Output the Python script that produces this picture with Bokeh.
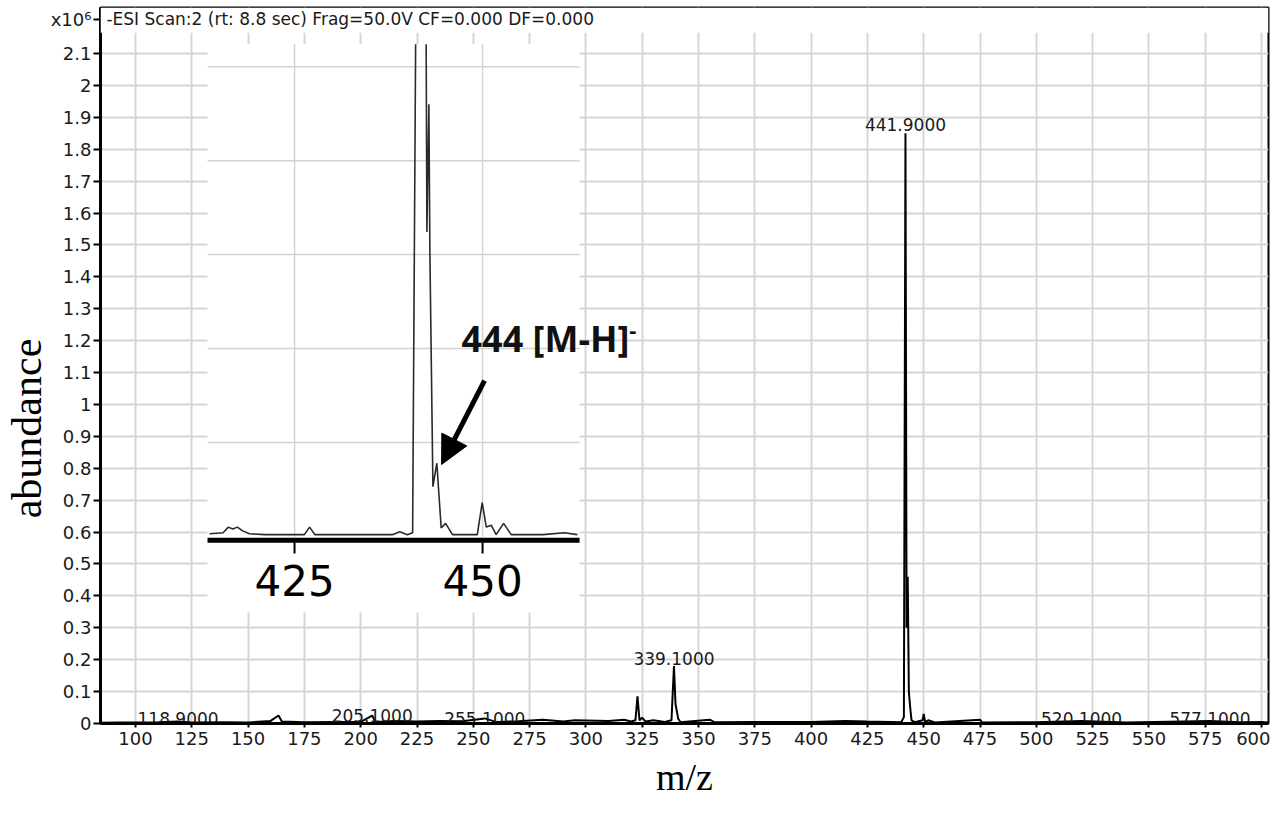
from bokeh.plotting import figure
from bokeh.models import Range1d, FixedTicker, Label, Arrow, NormalHead, BoxAnnotation
from bokeh.core.properties import value
from bokeh.embed import file_html
from bokeh.resources import INLINE

nan = float("nan")

# ---------------- data ----------------
main_mz = [84.5, 92, 100, 110, 118.9, 125, 140, 150, 160, 163.5, 165, 175, 190, 200, 205.1, 206.5,
           215, 225, 235, 245, 255.1, 260, 270, 281, 290, 295, 310, 317, 320, 322, 322.9, 323.8,
           325, 326.5, 330, 335, 338, 339.1, 339.8, 341, 342, 355, 357, 375, 400, 415, 425, 440,
           441.2, 441.9, 442.4, 442.9, 443.4, 444, 444.6, 446, 449.5, 450, 450.6, 452, 455, 475,
           476, 500, 520.1, 540, 577.1, 590, 600, 603]
main_ab = [0.002, 0.003, 0.003, 0.004, 0.006, 0.003, 0.004, 0.003, 0.008, 0.025, 0.006, 0.004, 0.005,
           0.005, 0.025, 0.005, 0.008, 0.006, 0.008, 0.007, 0.016, 0.005, 0.007, 0.012, 0.006, 0.010,
           0.008, 0.012, 0.006, 0.010, 0.085, 0.010, 0.018, 0.006, 0.010, 0.005, 0.010, 0.180, 0.060,
           0.015, 0.004, 0.012, 0.004, 0.005, 0.005, 0.008, 0.006, 0.004, 0.020, 1.850, 0.300, 0.460,
           0.100, 0.050, 0.010, 0.004, 0.010, 0.030, 0.005, 0.010, 0.003, 0.012, 0.003, 0.004, 0.008,
           0.003, 0.008, 0.004, 0.005, 0.003]

peak_labels = ["118.9000", "205.1000", "255.1000", "339.1000", "441.9000", "520.1000", "577.1000"]
peak_label_mz = [118.9, 205.1, 255.1, 339.1, 441.9, 520.1, 577.1]
peak_label_ab = [0.016, 0.025, 0.016, 0.204, 1.878, 0.016, 0.016]

x_ticks = [100, 125, 150, 175, 200, 225, 250, 275, 300, 325, 350, 375, 400, 425, 450, 475, 500,
           525, 550, 575, 600]
y_ticks = [0, 0.1, 0.2, 0.3, 0.4, 0.5, 0.6, 0.7, 0.8, 0.9, 1.0, 1.1, 1.2, 1.3, 1.4, 1.5, 1.6, 1.7,
           1.8, 1.9, 2.0, 2.1]
y_tick_labels = ["0", "0.1", "0.2", "0.3", "0.4", "0.5", "0.6", "0.7", "0.8", "0.9", "1", "1.1",
                 "1.2", "1.3", "1.4", "1.5", "1.6", "1.7", "1.8", "1.9", "2", "2.1"]
scale_label = "x10\u2076"
scan_title = "-ESI Scan:2 (rt: 8.8 sec) Frag=50.0V CF=0.000 DF=0.000"

# inset (zoom around the molecular ion)
inset_mz = [413.7, 415.5, 416.2, 416.8, 417.4, 418.1, 419.0, 421, 423, 426.3, 427.0, 427.7, 430,
            434, 438, 439.0, 440.0, 440.7, 441.1, nan, 442.5, 442.6, 442.86, 443.0, 443.4, 443.92,
            444.5, 445.08, 446.0, 448, 449.3, 449.95, 450.5, 451.15, 451.8, 452.8, 453.8, 456, 458,
            460.9, 462.6]
inset_ab = [0.003, 0.004, 0.010, 0.008, 0.010, 0.006, 0.003, 0.002, 0.002, 0.002, 0.010, 0.002, 0.002,
            0.002, 0.002, 0.005, 0.002, 0.004, 0.524, nan, 0.524, 0.324, 0.460, 0.300, 0.053, 0.078,
            0.009, 0.014, 0.002, 0.002, 0.002, 0.036, 0.010, 0.012, 0.002, 0.014, 0.002, 0.002, 0.002,
            0.004, 0.002]
inset_ticks = [425, 450]
inset_tick_labels = ["425", "450"]
inset_grid_ab = [0.1, 0.2, 0.3, 0.4, 0.5]

# ---------------- layout constants ----------------
FONT = "DejaVu Sans"
INSET_L, INSET_R, INSET_B, INSET_T = 413.43, 462.9, -0.081, 0.524
TITLE_Y = 2.207

p = figure(frame_width=1168, frame_height=716,
           x_range=Range1d(84.46, 603.1), y_range=Range1d(0, 2.2445),
           output_backend="svg", toolbar_location=None,
           min_border_top=7, min_border_right=2, min_border_left=0, min_border_bottom=0,
           background_fill_color="white", border_fill_color="white")
p.extra_x_ranges = {"ix": Range1d(399.2, 554.5)}
p.extra_y_ranges = {"iy": Range1d(-0.199, 0.563)}

p.outline_line_color = "black"
p.outline_line_width = 2

# grids
p.xgrid.ticker = FixedTicker(ticks=x_ticks)
p.ygrid.ticker = FixedTicker(ticks=y_ticks)
for g in (p.xgrid, p.ygrid):
    g.grid_line_color = "#d6d6d6"
    g.grid_line_width = 2

# axes
p.xaxis.ticker = FixedTicker(ticks=x_ticks)
p.yaxis.ticker = FixedTicker(ticks=y_ticks + [TITLE_Y])
overrides = {t: s for t, s in zip(y_ticks, y_tick_labels)}
overrides[TITLE_Y] = scale_label
p.yaxis.major_label_overrides = overrides
for ax in (p.xaxis[0], p.yaxis[0]):
    ax.axis_line_width = 3
    ax.axis_line_color = "black"
    ax.major_tick_line_width = 2
    ax.major_tick_in = 0
    ax.minor_tick_out = 0
    ax.minor_tick_in = 0
    ax.major_label_text_font = FONT
    ax.major_label_text_font_size = "18px"
    ax.major_label_text_color = "#1a1a1a"
    ax.axis_label_text_font = "Liberation Serif"
    ax.axis_label_text_font_style = "normal"
    ax.axis_label_text_color = "black"
p.xaxis.major_tick_out = 4
p.xaxis.major_label_standoff = 4
p.xaxis.axis_label = "m/z"
p.xaxis.axis_label_text_font_size = "38px"
p.xaxis.axis_label_standoff = 8
p.yaxis.major_tick_out = 7
p.yaxis.major_label_standoff = 2
p.yaxis.axis_label = "abundance" + "\u00a0" * 12
p.yaxis.axis_label_text_font_size = "42px"
p.yaxis.axis_label_standoff = -2

# main spectrum
p.line(main_mz, main_ab, line_color="black", line_width=2)
p.text(x=peak_label_mz, y=peak_label_ab, text=peak_labels, text_font=value(FONT),
       text_font_size="17px", text_align="center", text_baseline="alphabetic", text_color="#1a1a1a")

# hide grid above the plotting band (title strip)
p.add_layout(BoxAnnotation(bottom=2.165, fill_color="white", fill_alpha=1.0, line_alpha=0))
p.add_layout(Label(x=87.1, y=TITLE_Y, text=scan_title,
                   text_font=FONT, text_font_size="17px", text_baseline="middle", text_color="#1a1a1a"))

# ---------------- inset ----------------
kw = dict(x_range_name="ix", y_range_name="iy")
p.quad(left=[INSET_L], right=[INSET_R], bottom=[INSET_B], top=[INSET_T],
       fill_color="white", line_alpha=0, **kw)
p.segment(x0=[INSET_L] * len(inset_grid_ab), x1=[INSET_R] * len(inset_grid_ab),
          y0=inset_grid_ab, y1=inset_grid_ab, line_color="#d2d2d2", line_width=1.5, **kw)
p.segment(x0=inset_ticks, x1=inset_ticks, y0=[0] * 2, y1=[INSET_T] * 2,
          line_color="#d2d2d2", line_width=1.5, **kw)
p.line(inset_mz, inset_ab, line_color="#2a2a2a", line_width=1.6, **kw)
p.segment(x0=[INSET_L], x1=[INSET_R], y0=[-0.004], y1=[-0.004], line_color="black", line_width=5, **kw)
p.segment(x0=inset_ticks, x1=inset_ticks, y0=[-0.006] * 2, y1=[-0.018] * 2,
          line_color="black", line_width=2, **kw)
p.text(x=inset_ticks, y=[-0.047] * 2, text=inset_tick_labels, text_font=value(FONT),
       text_font_size="42px", text_align="center", text_baseline="middle", text_color="black", **kw)

p.add_layout(Label(x=447.2, y=0.211, text="444 [M-H]", text_font="Open Sans", text_font_style="bold",
                   text_font_size="36px", text_baseline="middle", text_color="#111111", **kw))
p.add_layout(Label(x=469.5, y=0.219, text="-", text_font="Open Sans", text_font_style="bold",
                   text_font_size="22px", text_baseline="middle", text_color="#111111", **kw))
p.add_layout(Arrow(x_start=450.26, y_start=0.166, x_end=444.55, y_end=0.0767, line_width=5,
                   line_color="black",
                   end=NormalHead(size=28, fill_color="black", line_color="black"), **kw))

open("out.html", "w").write(file_html(p, INLINE))
